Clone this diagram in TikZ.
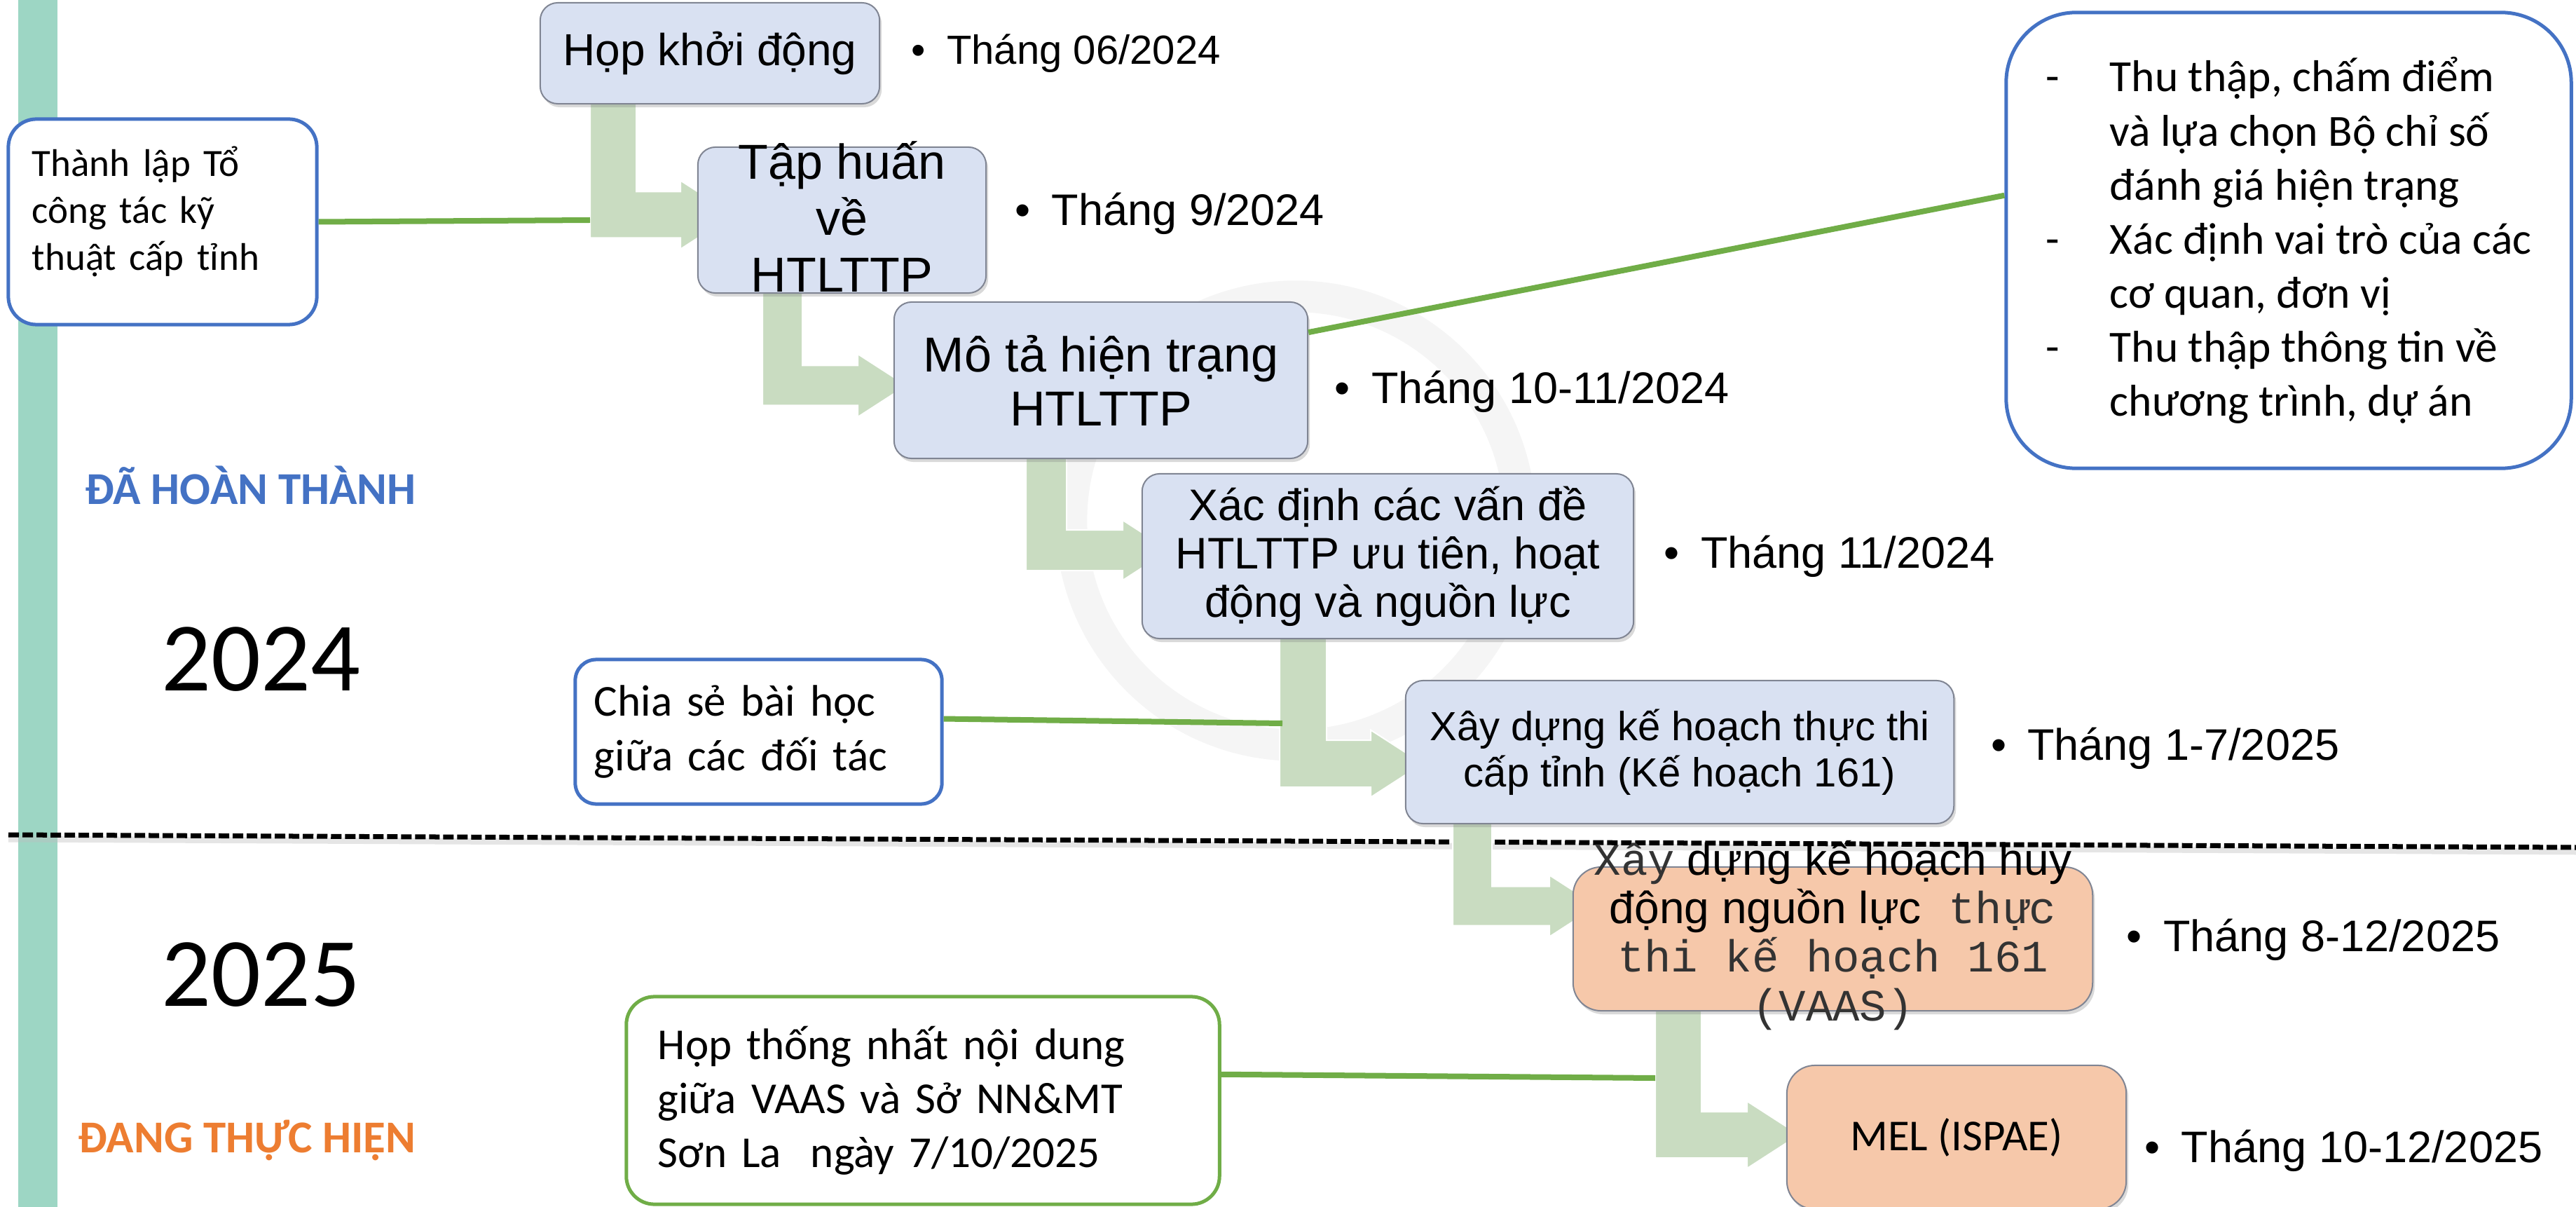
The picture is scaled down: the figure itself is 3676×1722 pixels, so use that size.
\documentclass[tikz,border=0pt]{standalone}
\usepackage{fontspec}
\setmainfont{Carlito}
\newfontfamily\arial{Liberation Sans}
\newfontfamily\mono{Liberation Mono}
\usetikzlibrary{positioning,shadows}

\definecolor{stagefill}{HTML}{D9E1F2}
\definecolor{stageline}{HTML}{808593}
\definecolor{planfill}{HTML}{F6C8AA}
\definecolor{flowgreen}{HTML}{C9DCC1}
\definecolor{linkgreen}{HTML}{70AD47}
\definecolor{noteblue}{HTML}{4472C4}
\definecolor{doingorange}{HTML}{ED7D31}
\definecolor{barteal}{HTML}{9DD6C4}
\definecolor{wmgray}{HTML}{F5F5F5}

% bent arrow: left x, top y, shaft width, middle y, head base x, head half width
\newcommand{\flowarrow}[6]{%
  \path[flow] (#1,#2) -- ({#1+#3},#2) -- ({#1+#3},{#4-#3/2}) -- (#5,{#4-#3/2})
    -- (#5,{#4-#6}) -- ({#5+1.55*#6},#4) -- (#5,{#4+#6}) -- (#5,{#4+#3/2})
    -- (#1,{#4+#3/2}) -- cycle;}

\begin{document}
\begin{tikzpicture}[x=0.01cm, y=-0.01cm,
	stage/.style={draw=stageline, line width=0.02cm, fill=stagefill, rounded corners=0.25cm,
		inner sep=0pt, align=center, font=\arial,
		drop shadow={shadow xshift=0.03cm, shadow yshift=-0.05cm, opacity=0.3}},
	plan/.style={stage, fill=planfill, rounded corners=0.4cm},
	note/.style={draw=noteblue, line width=0.05cm, fill=white, rounded corners=0.4cm,
		inner sep=0pt, align=left},
	meeting/.style={note, draw=linkgreen},
	date/.style={inner sep=0pt, font=\arial\fontsize{17.93pt}{20pt}\selectfont},
	link/.style={draw=linkgreen, line width=0.08cm},
	flow/.style={fill=flowgreen, draw=white, line width=0.02cm},
	phase/.style={font=\bfseries\fontsize{18.5pt}{22pt}\selectfont, anchor=base west, inner sep=0pt},
	year/.style={font=\fontsize{39.8pt}{44pt}\selectfont, anchor=base west, inner sep=0pt}]

	\useasboundingbox (0,0) rectangle (3676,1722);

	% faint logo ring and the time bar
	\draw[line width=0.45cm, wmgray] (1849,743) circle[radius=3.2cm];
	\fill[barteal] (26,0) rectangle (82,1722);

	% 2024 / 2025 divider
	\draw[black!25, line width=0.09cm, opacity=0.4] (12,1197) -- (3676,1215);
	\draw[line width=0.07cm, dash pattern=on 0.15cm off 0.05cm] (12,1191) -- (3676,1209);

	% arrows between the steps
	\flowarrow{842}{140}{66}{306.5}{971}{49}
	\flowarrow{1088}{410}{57}{550}{1224}{45}
	\flowarrow{1464}{645}{58}{785}{1602}{43}
	\flowarrow{1826}{900}{67}{1089.5}{1956}{48}
	\flowarrow{2073}{1165}{56}{1292.5}{2211}{44}
	\flowarrow{2362}{1435}{66}{1619}{2493}{48}

	\coordinate (j1) at (842,314);
	\coordinate (j4) at (1830,1032);
	\coordinate (j6) at (2362,1538);

	% steps
	\node[stage, minimum width=4.84cm, minimum height=1.44cm,
		font=\arial\fontsize{18.21pt}{20pt}\selectfont] (hop) at (1013,76) {Họp khởi động};
	\node[stage, minimum width=4.11cm, minimum height=2.08cm] (taphuan) at (1201.5,314) {};
	\node[font=\arial\fontsize{19.92pt}{22.8pt}\selectfont, align=center, inner sep=0pt]
		(taphuan-text) at ([yshift=0.05cm]taphuan.center) {Tập huấn\\về\\HTLTTP};
	\node[stage, minimum width=5.9cm, minimum height=2.23cm,
		font=\arial\fontsize{19.92pt}{21.91pt}\selectfont] (mota) at (1571,542.5)
		{Mô tả hiện trạng\\HTLTTP};
	\node[stage, minimum width=7.01cm, minimum height=2.35cm,
		font=\arial\fontsize{17.93pt}{19.63pt}\selectfont] (xacdinh) at (1980.5,793.5)
		{Xác định các vấn đề\\HTLTTP ưu tiên, hoạt\\động và nguồn lực};
	\node[stage, minimum width=7.82cm, minimum height=2.04cm,
		font=\arial\fontsize{16.5pt}{18.78pt}\selectfont] (thucthi) at (2397,1073)
		{Xây dựng kế hoạch thực thi\\cấp tỉnh (Kế hoạch 161)};
	\node[plan, minimum width=7.41cm, minimum height=2.05cm] (huydong) at (2615.5,1339.5) {};
	\node[font=\arial\fontsize{18.21pt}{19.63pt}\selectfont, align=center, inner sep=0pt]
		(huydong-text) at ([yshift=0.05cm]huydong.center)
		{{\mono\color{black!80}Xây} dựng kế hoạch huy\\động nguồn lực{\mono\color{black!80}\ thực}\\
		{\mono\color{black!80}thi kế hoạch 161}\\{\mono\color{black!80}(VAAS)}};
	\node[plan, minimum width=4.84cm, minimum height=2.05cm,
		font=\fontsize{17.9pt}{20pt}\selectfont] (mel) at (2792,1622.5) {MEL (ISPAE)};

	% dates
	\node[date, font=\arial\fontsize{16.5pt}{19pt}\selectfont, right=0.44cm of hop, yshift=0cm]
		(d1) {•\hspace{0.3cm}Tháng 06/2024};
	\node[date, right=0.40cm of taphuan, yshift=0.095cm] (d2) {•\hspace{0.3cm}Tháng 9/2024};
	\node[date, right=0.37cm of mota, yshift=-0.16cm] (d3) {•\hspace{0.3cm}Tháng 10-11/2024};
	\node[date, right=0.42cm of xacdinh, yshift=0cm] (d4) {•\hspace{0.3cm}Tháng 11/2024};
	\node[date, right=0.51cm of thucthi, yshift=0.055cm] (d5) {•\hspace{0.3cm}Tháng 1-7/2025};
	\node[date, right=0.47cm of huydong, yshift=-0.01cm] (d6) {•\hspace{0.3cm}Tháng 8-12/2025};
	\node[date, right=0.25cm of mel, yshift=-0.195cm] (d7) {•\hspace{0.3cm}Tháng 10-12/2025};

	% side notes
	\node[note, minimum width=4.4cm, minimum height=2.93cm, text width=3.72cm,
		font=\fontsize{15.65pt}{19.06pt}\selectfont] (thanhlap) at (232,316.5)
		{Thành lập Tổ\\công tác kỹ\\thuật cấp tỉnh\par\kern0.3cm};
	\node[note, minimum width=5.23cm, minimum height=2.06cm, text width=4.69cm, rounded corners=0.3cm,
		font=\fontsize{17.93pt}{21.91pt}\selectfont] (chiase) at (1082.5,1044)
		{Chia sẻ bài học\\giữa các đối tác};
	\node[meeting, minimum width=8.46cm, minimum height=2.96cm, text width=7.56cm,
		font=\fontsize{17.93pt}{21.91pt}\selectfont] (hopthongnhat) at (1317,1570)
		{Họp thống nhất nội dung\\giữa VAAS và Sở NN\&MT\\Sơn La\ \ ngày 7/10/2025};
	\node[note, minimum width=8.06cm, minimum height=6.5cm, rounded corners=1cm,
		font=\fontsize{18.07pt}{21.91pt}\selectfont] (nhiemvu) at (3266,343)
		{\makebox[0.91cm][l]{-}Thu thập, chấm điểm\\
		\hspace*{0.91cm}và lựa chọn Bộ chỉ số\\
		\hspace*{0.91cm}đánh giá hiện trạng\\
		\makebox[0.91cm][l]{-}Xác định vai trò của các\\
		\hspace*{0.91cm}cơ quan, đơn vị\\
		\makebox[0.91cm][l]{-}Thu thập thông tin về\\
		\hspace*{0.91cm}chương trình, dự án};

	% links to the notes
	\draw[link] (thanhlap.east) -- (j1);
	\draw[link] (mota.13) -- (nhiemvu.171);
	\draw[link] (chiase.4) -- (j4);
	\draw[link] (hopthongnhat.5) -- (j6);

	% phase labels
	\node[phase, text=noteblue] (done) at (121,719) {ĐÃ HOÀN THÀNH};
	\node[year] (y2024) at (230,985) {2024};
	\node[year] (y2025) at (230,1435) {2025};
	\node[phase, text=doingorange] (doing) at (111,1644) {ĐANG THỰC HIỆN};
\end{tikzpicture}
\end{document}
